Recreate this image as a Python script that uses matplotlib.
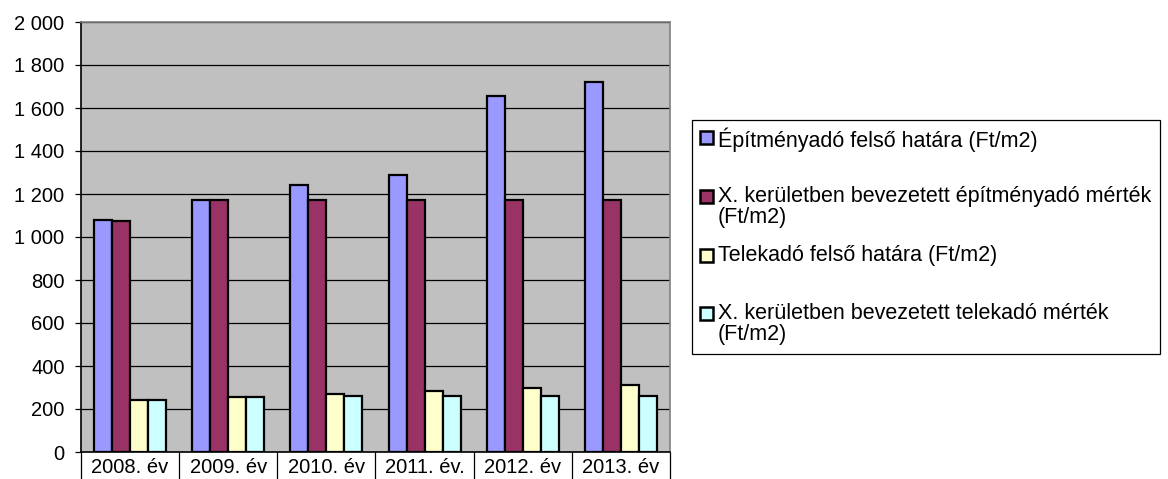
import numpy as np
import matplotlib.pyplot as plt
from matplotlib.patches import Rectangle
from matplotlib.ticker import FuncFormatter

plt.rcParams['font.family'] = ['Liberation Sans', 'DejaVu Sans']

years = ['2008. év', '2009. év', '2010. év', '2011. év.', '2012. év', '2013. év']
epitmeny_felso = [1080, 1170, 1240, 1290, 1655, 1720]
epitmeny_x = [1075, 1170, 1170, 1170, 1170, 1170]
telek_felso = [240, 258, 272, 285, 300, 310]
telek_x = [240, 258, 260, 260, 260, 260]

series = [epitmeny_felso, epitmeny_x, telek_felso, telek_x]
labels = ['Építményadó felső határa (Ft/m2)',
          'X. kerületben bevezetett építményadó mérték\n(Ft/m2)',
          'Telekadó felső határa (Ft/m2)',
          'X. kerületben bevezetett telekadó mérték\n(Ft/m2)']
colors = ['#9999FF', '#993366', '#FFFFCC', '#CCFFFF']

fig = plt.figure(figsize=(11.68, 4.79), dpi=100)
ax = fig.add_axes([81 / 1168, 27 / 479, 589 / 1168, 430 / 479])
ax.set_facecolor('#C0C0C0')

x = np.arange(len(years))
w = 0.183
for i, (vals, c) in enumerate(zip(series, colors)):
    ax.bar(x + (i - 1.5) * w, vals, w, color=c, edgecolor='black', linewidth=1.6, zorder=3)

ax.set_xlim(-0.5, len(years) - 0.5)
ax.set_ylim(0, 2000)
ax.set_yticks(range(0, 2001, 200))
ax.yaxis.set_major_formatter(FuncFormatter(lambda v, p: f'{int(v):,}'.replace(',', ' ')))
ax.grid(axis='y', color='black', linewidth=0.9, zorder=1)
ax.tick_params(axis='y', length=4.3, width=0.9, labelsize=14.5, pad=7.5)

ax.set_xticks(x)
ax.set_xticklabels(years)
ax.set_xticks(np.arange(-0.5, len(years)), minor=True)
ax.tick_params(axis='x', which='major', length=0, labelsize=14.5, pad=4.5)
ax.tick_params(axis='x', which='minor', length=25, width=0.9, color='black')

ax.spines['left'].set_color('black')
ax.spines['bottom'].set_color('black')
ax.spines['top'].set_color('#808080')
ax.spines['right'].set_color('#808080')
for s in ax.spines.values():
    s.set_linewidth(1.2)

# legend box
W, H = 1168, 479
fig.patches.append(Rectangle((692 / W, 1 - 354 / H), 468 / W, 234 / H, transform=fig.transFigure,
                             facecolor='white', edgecolor='black', linewidth=0.9))
ys = [137, 196, 255, 313]
for y, lab, c in zip(ys, labels, colors):
    fig.patches.append(Rectangle((700 / W, 1 - (y + 6.5) / H), 13 / W, 13 / H, transform=fig.transFigure,
                                 facecolor=c, edgecolor='black', linewidth=1.8))
    fig.text(718 / W, 1 - (y - 10) / H, lab, fontsize=15.5, va='top', ha='left', linespacing=1.0)

fig.savefig('out.png', dpi=100)
